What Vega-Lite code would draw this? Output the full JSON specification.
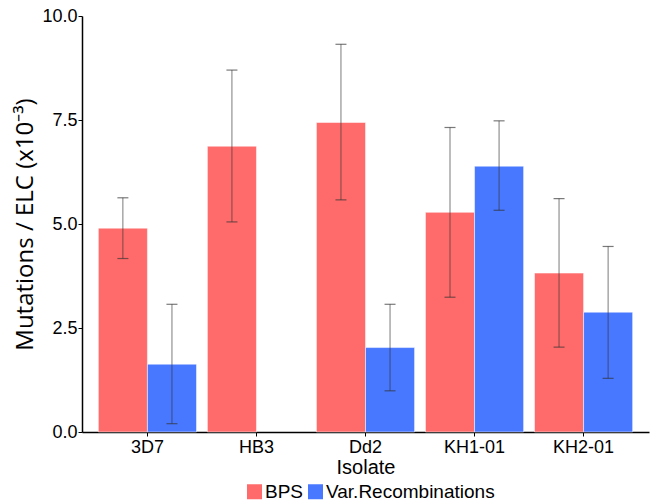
{
  "$schema": "https://vega.github.io/schema/vega-lite/v6.json",
  "width": 567,
  "height": 416,
  "autosize": {"type": "none"},
  "padding": {"left": 82, "top": 16, "right": 2, "bottom": 69},
  "background": "white",
  "config": {
    "font": "Liberation Sans",
    "view": {"stroke": null},
    "axis": {"grid": false, "domainColor": "black", "domainWidth": 1.5, "tickColor": "black", "labelColor": "black", "titleColor": "black", "titleFontWeight": "normal"}
  },
  "data": {
    "values": [
      {"Isolate": "3D7", "series": "BPS", "value": 4.9, "lo": 4.17, "hi": 5.63},
      {"Isolate": "3D7", "series": "Var.Recombinations", "value": 1.63, "lo": 0.2, "hi": 3.07},
      {"Isolate": "HB3", "series": "BPS", "value": 6.87, "lo": 5.05, "hi": 8.7},
      {"Isolate": "Dd2", "series": "BPS", "value": 7.44, "lo": 5.58, "hi": 9.32},
      {"Isolate": "Dd2", "series": "Var.Recombinations", "value": 2.03, "lo": 0.99, "hi": 3.07},
      {"Isolate": "KH1-01", "series": "BPS", "value": 5.28, "lo": 3.24, "hi": 7.32},
      {"Isolate": "KH1-01", "series": "Var.Recombinations", "value": 6.39, "lo": 5.33, "hi": 7.48},
      {"Isolate": "KH2-01", "series": "BPS", "value": 3.82, "lo": 2.04, "hi": 5.61},
      {"Isolate": "KH2-01", "series": "Var.Recombinations", "value": 2.88, "lo": 1.29, "hi": 4.46}
    ]
  },
  "encoding": {
    "x": {
      "field": "Isolate", "type": "nominal", "sort": ["3D7", "HB3", "Dd2", "KH1-01", "KH2-01"],
      "scale": {"paddingInner": 0.1, "paddingOuter": 0.15},
      "axis": {"labelAngle": 0, "labelFontSize": 18, "titleFontSize": 20, "tickSize": 4, "labelPadding": 2, "titlePadding": 1, "title": "Isolate"}
    },
    "xOffset": {"field": "series", "type": "nominal", "sort": ["BPS", "Var.Recombinations"]}
  },
  "layer": [
    {
      "mark": {"type": "bar", "stroke": "white", "strokeWidth": 0.5},
      "encoding": {
        "y": {
          "field": "value", "type": "quantitative",
          "scale": {"domain": [0, 10], "nice": false},
          "axis": {"values": [0, 2.5, 5, 7.5, 10], "format": ".1f", "labelFontSize": 18, "titleFont": "Open Sans", "titleFontSize": 24, "tickSize": 4, "labelPadding": 1, "titlePadding": 4, "title": "Mutations / ELC (x10⁻³)"}
        },
        "color": {
          "field": "series", "type": "nominal",
          "scale": {"domain": ["BPS", "Var.Recombinations"], "range": ["#FF6B6B", "#4878FF"]},
          "legend": {"orient": "none", "legendX": 163, "legendY": 466, "direction": "horizontal", "title": null, "labelFontSize": 19, "labelLimit": 400, "symbolType": "square", "symbolSize": 225, "symbolStrokeWidth": 0, "labelOffset": 1, "columnPadding": 2, "padding": 0}
        }
      }
    },
    {
      "mark": {"type": "rule", "color": "#333333", "opacity": 0.65, "strokeWidth": 1},
      "encoding": {
        "y": {"field": "lo", "type": "quantitative"},
        "y2": {"field": "hi"}
      }
    },
    {
      "mark": {"type": "tick", "color": "#333333", "opacity": 0.65, "thickness": 1.2, "size": 11},
      "encoding": {"y": {"field": "lo", "type": "quantitative"}}
    },
    {
      "mark": {"type": "tick", "color": "#333333", "opacity": 0.65, "thickness": 1.2, "size": 11},
      "encoding": {"y": {"field": "hi", "type": "quantitative"}}
    }
  ]
}
